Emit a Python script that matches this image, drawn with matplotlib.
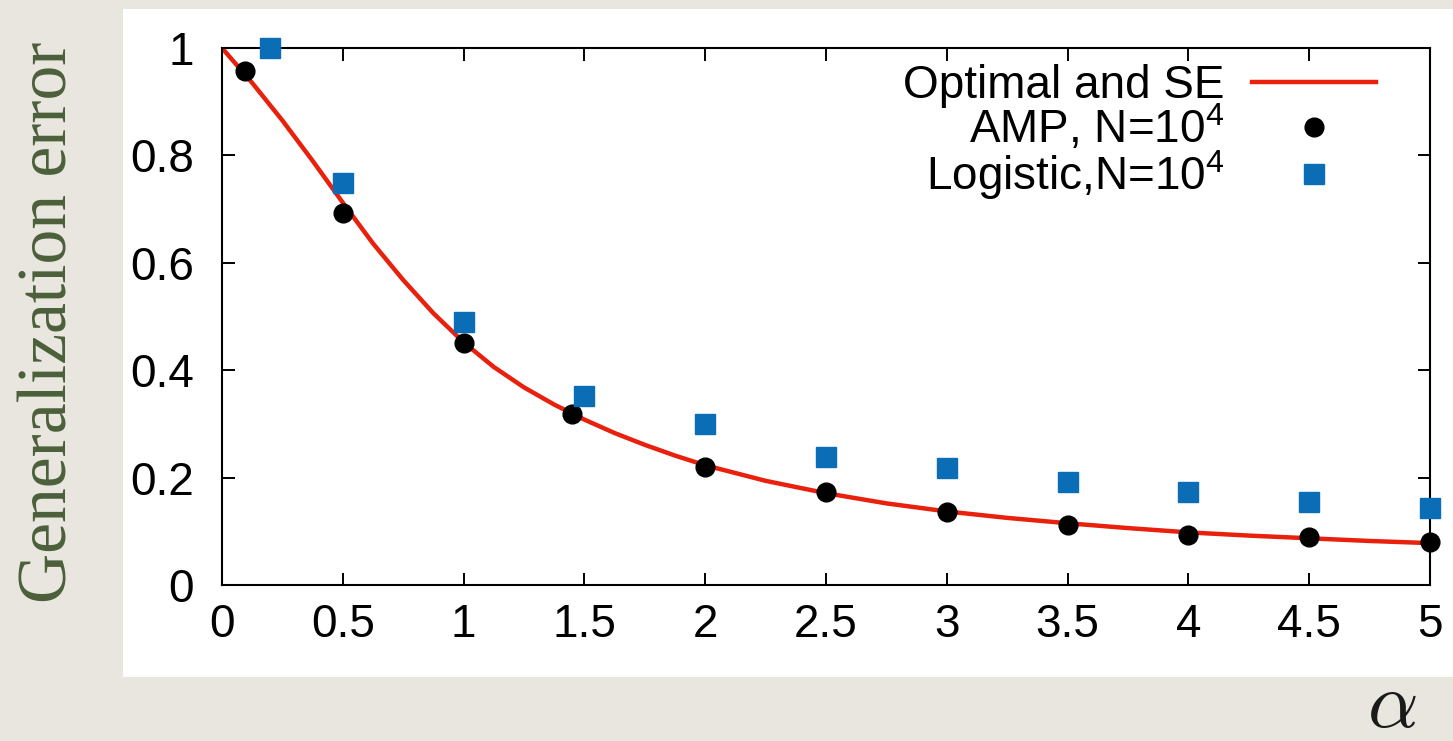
import matplotlib
matplotlib.use("Agg")
import matplotlib.pyplot as plt
from matplotlib.patches import Rectangle
from matplotlib.ticker import FormatStrFormatter, MultipleLocator

# state evolution / optimal curve
alpha_se = [0.0, 0.125, 0.25, 0.375, 0.5, 0.625, 0.75, 0.875, 1.0, 1.125,
            1.25, 1.375, 1.5, 1.625, 1.75, 1.875, 2.0, 2.25, 2.5, 2.75,
            3.0, 3.25, 3.5, 3.75, 4.0, 4.25, 4.5, 4.75, 5.0]
err_se = [1.0, 0.935, 0.865, 0.79, 0.712, 0.636, 0.568, 0.506, 0.452, 0.406,
          0.368, 0.336, 0.308, 0.283, 0.261, 0.241, 0.223, 0.194, 0.171, 0.152,
          0.137, 0.125, 0.115, 0.106, 0.098, 0.092, 0.087, 0.082, 0.078]

# AMP, N=10^4
alpha_amp = [0.095, 0.5, 1.0, 1.45, 2.0, 2.5, 3.0, 3.5, 4.0, 4.5, 5.0]
err_amp = [0.957, 0.693, 0.451, 0.318, 0.220, 0.173, 0.136, 0.112, 0.093, 0.089, 0.080]

# Logistic, N=10^4
alpha_log = [0.2, 0.5, 1.0, 1.5, 2.0, 2.5, 3.0, 3.5, 4.0, 4.5, 5.0]
err_log = [1.0, 0.749, 0.49, 0.352, 0.300, 0.238, 0.218, 0.192, 0.173, 0.155, 0.143]

plt.rcParams['font.family'] = ['Liberation Sans', 'DejaVu Sans']

W, H = 1453, 741
fig = plt.figure(figsize=(W / 100, H / 100), dpi=100, facecolor='#e8e6df')

# white panel behind the plot
fig.patches.append(Rectangle((123 / W, 1 - 677 / H), 1330 / W, 668 / H,
                             transform=fig.transFigure, facecolor='white',
                             edgecolor='none', zorder=-10))

ax = fig.add_axes([222 / W, 1 - 585 / H, 1208 / W, 537 / H])
ax.set_zorder(1)
ax.set_facecolor('white')

ax.plot(alpha_se, err_se, color='#e8200c', lw=3.2, label='Optimal and SE', zorder=2)
ax.plot(alpha_amp, err_amp, 'o', color='black', ms=13.5,
        label=r'AMP, N=10$^{\mathregular{4}}$', clip_on=False, zorder=3)
ax.plot(alpha_log, err_log, 's', color='#0a6db5', ms=15,
        label=r'Logistic,N=10$^{\mathregular{4}}$', clip_on=False, zorder=4)

ax.set_xlim(0, 5)
ax.set_ylim(0, 1)
ax.xaxis.set_major_locator(MultipleLocator(0.5))
ax.yaxis.set_major_locator(MultipleLocator(0.2))
ax.xaxis.set_major_formatter(FormatStrFormatter('%g'))
ax.yaxis.set_major_formatter(FormatStrFormatter('%g'))
ax.tick_params(direction='in', length=9, width=1.4, top=True, right=True,
               labelsize=33, colors='black')
ax.tick_params(axis='x', pad=13)
ax.tick_params(axis='y', pad=20)
for s in ax.spines.values():
    s.set_linewidth(1.5)

ax.legend(loc='upper right', bbox_to_anchor=(0.955, 0.971), markerfirst=False,
          frameon=False, fontsize=33, borderpad=0, borderaxespad=0,
          handlelength=2.7, handletextpad=0.6, labelspacing=-0.1,
          numpoints=1)

fig.text(50 / W, 1 - 322 / H, 'Generalization error', rotation=90,
         family='Liberation Serif', size=50, color='#4b5f3b',
         ha='center', va='center')
fig.text(1392 / W, 1 - 706 / H, r'$\alpha$', size=57, color='#1a1a1a',
         math_fontfamily='cm', ha='center', va='center')

fig.savefig('out.png', dpi=100, facecolor=fig.get_facecolor())
